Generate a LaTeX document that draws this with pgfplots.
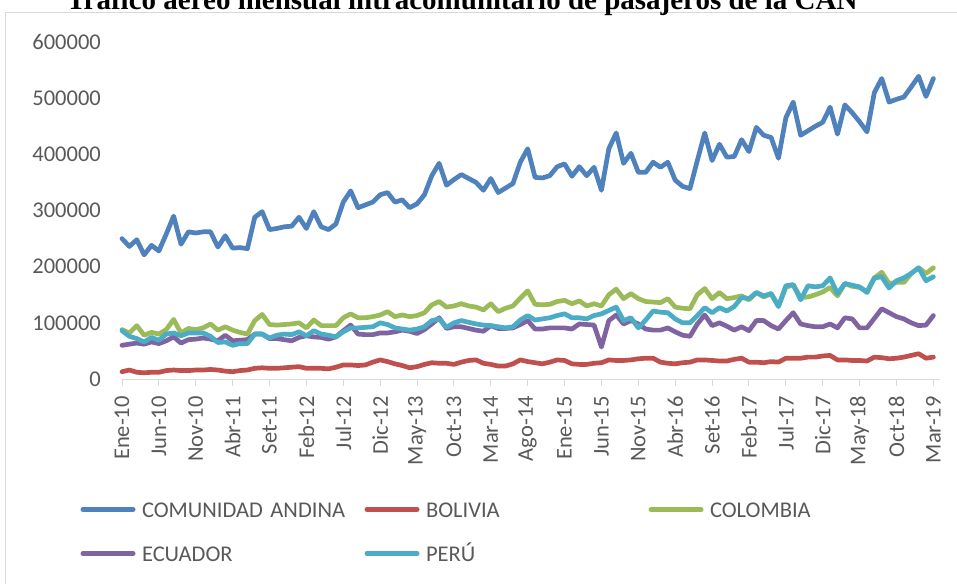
\documentclass[border=0pt]{standalone}
\usepackage{fontspec}
\setmainfont{Carlito}
\newfontfamily\titlefont{Liberation Serif}
\usepackage{pgfplots}
\usepackage{pgfplotstable}
\pgfplotsset{compat=1.18}
\definecolor{cCA}{HTML}{4F81BD}
\definecolor{cBO}{HTML}{C0504D}
\definecolor{cCO}{HTML}{9BBB59}
\definecolor{cEC}{HTML}{8064A2}
\definecolor{cPE}{HTML}{4BACC6}
\definecolor{cAxis}{HTML}{D9D9D9}
\definecolor{cText}{HTML}{595959}
\pgfplotstableread{
i ca bo co ec pe
0 250000 13000 88000 60000 86000
1 236000 16000 82000 62000 76000
2 248000 12000 95000 64000 72000
3 221000 11000 78000 62000 66000
4 238000 12000 83000 66000 74000
5 228000 12000 80000 63000 69000
6 258000 15000 88000 68000 80000
7 290000 16000 106000 75000 82000
8 240000 15000 82000 64000 77000
9 262000 15000 90000 70000 82000
10 260000 16000 88000 71000 82000
11 262000 16000 91000 73000 82000
12 262000 17000 98000 71000 76000
13 235000 16000 87000 68000 65000
14 255000 14000 93000 78000 66000
15 233000 13000 87000 68000 60000
16 234000 15000 83000 69000 63000
17 232000 16000 80000 70000 63000
18 288000 19000 104000 80000 80000
19 298000 20000 115000 80000 80000
20 266000 19000 97000 72000 73000
21 268000 19000 96000 72000 78000
22 271000 20000 97000 70000 80000
23 272000 21000 98000 68000 79000
24 288000 22000 100000 74000 84000
25 268000 19000 91000 77000 77000
26 298000 19000 105000 75000 86000
27 271000 19000 95000 74000 80000
28 266000 18000 95000 71000 78000
29 276000 21000 95000 75000 75000
30 315000 25000 109000 86000 84000
31 335000 25000 116000 96000 91000
32 305000 24000 109000 80000 91000
33 310000 25000 109000 79000 92000
34 315000 30000 111000 79000 93000
35 328000 34000 114000 82000 100000
36 332000 31000 120000 82000 97000
37 315000 27000 111000 84000 91000
38 319000 24000 114000 87000 89000
39 305000 20000 111000 85000 87000
40 312000 22000 113000 81000 89000
41 328000 26000 118000 88000 93000
42 362000 29000 132000 98000 104000
43 384000 28000 138000 109000 107000
44 345000 28000 128000 90000 92000
45 355000 26000 130000 93000 100000
46 364000 30000 134000 93000 104000
47 357000 33000 130000 90000 101000
48 350000 34000 128000 87000 98000
49 336000 28000 123000 85000 96000
50 357000 26000 134000 95000 95000
51 332000 23000 120000 90000 93000
52 340000 23000 126000 90000 91000
53 348000 27000 130000 91000 93000
54 386000 34000 144000 97000 105000
55 410000 31000 157000 104000 113000
56 359000 29000 133000 89000 105000
57 358000 27000 132000 89000 107000
58 362000 30000 133000 91000 109000
59 378000 34000 138000 91000 113000
60 383000 33000 140000 91000 116000
61 361000 27000 134000 89000 109000
62 378000 26000 139000 98000 109000
63 362000 26000 130000 97000 107000
64 377000 28000 134000 96000 113000
65 336000 29000 130000 57000 116000
66 410000 34000 150000 104000 122000
67 438000 33000 160000 114000 128000
68 384000 33000 143000 98000 104000
69 402000 34000 152000 104000 109000
70 368000 36000 143000 98000 91000
71 368000 37000 138000 89000 105000
72 386000 37000 137000 87000 121000
73 377000 30000 136000 87000 119000
74 386000 28000 143000 91000 118000
75 354000 27000 128000 84000 107000
76 343000 29000 126000 78000 100000
77 339000 30000 125000 76000 100000
78 389000 34000 150000 98000 113000
79 438000 34000 161000 114000 127000
80 389000 33000 143000 95000 118000
81 418000 32000 154000 100000 127000
82 395000 32000 143000 94000 121000
83 396000 35000 145000 87000 129000
84 426000 37000 148000 93000 145000
85 405000 30000 141000 86000 143000
86 448000 30000 154000 104000 154000
87 434000 29000 146000 104000 148000
88 430000 31000 152000 95000 152000
89 393000 30000 130000 89000 129000
90 465000 37000 163000 104000 166000
91 493000 37000 168000 118000 168000
92 434000 37000 145000 98000 141000
93 442000 39000 146000 95000 166000
94 450000 39000 150000 93000 164000
95 457000 41000 155000 93000 166000
96 484000 42000 163000 98000 180000
97 436000 34000 148000 91000 152000
98 488000 34000 170000 109000 170000
99 474000 33000 165000 107000 167000
100 458000 33000 163000 91000 164000
101 440000 32000 156000 91000 154000
102 510000 39000 180000 108000 180000
103 535000 38000 190000 125000 182000
104 493000 36000 170000 118000 162000
105 498000 37000 172000 111000 175000
106 502000 39000 172000 107000 180000
107 520000 42000 188000 100000 188000
108 539000 45000 198000 95000 198000
109 503000 37000 188000 96000 175000
110 535000 39000 198000 113000 182000
}\data
\begin{document}
\begin{tikzpicture}[x=1pt,y=1pt]
\draw[color=cAxis, line width=1pt] (5,-13) rectangle (1000,-640);
\node[anchor=base, inner sep=0pt, font=\titlefont\bfseries\fontsize{29}{34}\selectfont] at (462,-10) {Tráfico aéreo mensual intracomunitario de pasajeros de la CAN};
\begin{axis}[
  at={(122pt,-379pt)}, anchor=south west,
  scale only axis, width=818pt, height=337pt,
  xmin=0, xmax=110.9, ymin=0, ymax=600000,
  scaled y ticks=false,
  axis x line*=bottom, axis y line*=left,
  y axis line style={draw=none},
  x axis line style={draw=cAxis, line width=1pt},
  tick align=outside, major tick length=7pt,
  xtick={0,5,...,110},
  xticklabels={Ene-10,Jun-10,Nov-10,Abr-11,Set-11,Feb-12,Jul-12,Dic-12,May-13,Oct-13,Mar-14,Ago-14,Ene-15,Jun-15,Nov-15,Abr-16,Set-16,Feb-17,Jul-17,Dic-17,May-18,Oct-18,Mar-19},
  xtick style={draw=cAxis, line width=1pt},
  ytick={0,100000,200000,300000,400000,500000,600000},
  yticklabels={0,100000,200000,300000,400000,500000,600000},
  ytick style={draw=none},
  tick label style={font=\fontsize{22.5}{27}\selectfont, text=cText},
  xticklabel style={rotate=90, anchor=east, inner sep=0pt, xshift=-10pt},
  yticklabel style={anchor=east, inner sep=0pt, xshift=-14pt},
  clip=false,
  every axis plot/.append style={line width=4.7pt, line join=round, line cap=round, no markers},
  legend columns=3,
  legend cell align=left,
  legend image code/.code={\draw[#1, line width=5pt, line cap=round] (0pt,0pt) -- (50pt,0pt);},
  legend style={draw=none, fill=none, at={(axis description cs:-0.0507,-0.362)}, anchor=north west,
    inner sep=0pt, outer sep=0pt, row sep=27pt,
    nodes={inner sep=0pt, text width=222.5pt, align=left, text height=16pt, text depth=1pt, font=\fontsize{22.5}{27}\selectfont, text=cText},
    /tikz/every odd column/.append style={column sep=6.5pt}},
]
\addplot[color=cCA] table[x=i, y=ca] {\data};
\addlegendentry{COMUNIDAD ANDINA}
\addplot[color=cBO] table[x=i, y=bo] {\data};
\addlegendentry{BOLIVIA}
\addplot[color=cCO] table[x=i, y=co] {\data};
\addlegendentry{COLOMBIA}
\addplot[color=cEC] table[x=i, y=ec] {\data};
\addlegendentry{ECUADOR}
\addplot[color=cPE] table[x=i, y=pe] {\data};
\addlegendentry{PERÚ}
\end{axis}
\pgfresetboundingbox
\path[use as bounding box] (0,0) rectangle (957,-583);
\end{tikzpicture}
\end{document}
